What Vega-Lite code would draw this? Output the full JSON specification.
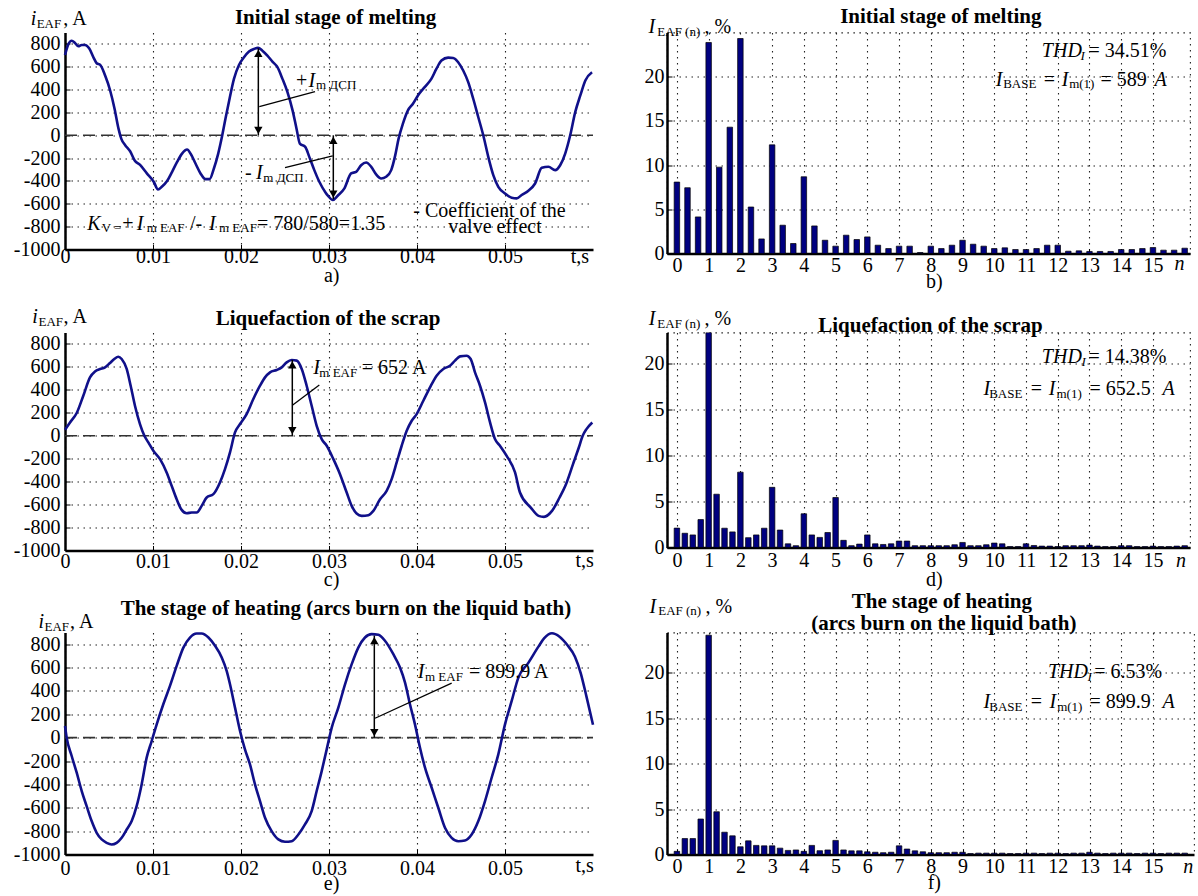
{
"$schema": "https://vega.github.io/schema/vega-lite/v6.json",
"autosize": {"type": "none"},
"padding": {"left": 65, "top": 32.5, "right": 1133, "bottom": 863.5},
"background": "white",
"columns": 2,
"spacing": {"row": 78, "column": 74},
"bounds": "flush",
"align": "all",
"datasets": {
"a_curve": [{"t":0,"v":703},{"t":0.0004,"v":800},{"t":0.00076,"v":828},{"t":0.00114,"v":808},{"t":0.00152,"v":779},{"t":0.0019,"v":791},{"t":0.00228,"v":791},{"t":0.00274,"v":762},{"t":0.00323,"v":683},{"t":0.0036,"v":631},{"t":0.004,"v":616},{"t":0.00456,"v":523},{"t":0.00513,"v":392},{"t":0.00563,"v":233},{"t":0.00608,"v":58},{"t":0.00639,"v":-29},{"t":0.00684,"v":-87},{"t":0.0074,"v":-140},{"t":0.0079,"v":-218},{"t":0.00856,"v":-262},{"t":0.0093,"v":-334},{"t":0.01008,"v":-407},{"t":0.01057,"v":-474},{"t":0.011,"v":-451},{"t":0.0116,"v":-401},{"t":0.01217,"v":-320},{"t":0.01274,"v":-233},{"t":0.0133,"v":-160},{"t":0.01388,"v":-125},{"t":0.01426,"v":-160},{"t":0.01483,"v":-247},{"t":0.0154,"v":-334},{"t":0.01597,"v":-384},{"t":0.01643,"v":-384},{"t":0.01692,"v":-291},{"t":0.01741,"v":-160},{"t":0.01787,"v":0},{"t":0.01825,"v":151},{"t":0.0187,"v":320},{"t":0.0192,"v":494},{"t":0.01977,"v":616},{"t":0.02034,"v":683},{"t":0.02091,"v":733},{"t":0.02148,"v":756},{"t":0.02194,"v":765},{"t":0.02243,"v":741},{"t":0.023,"v":698},{"t":0.02357,"v":645},{"t":0.02414,"v":596},{"t":0.02471,"v":494},{"t":0.02528,"v":378},{"t":0.02586,"v":218},{"t":0.02631,"v":58},{"t":0.02669,"v":-73},{"t":0.0273,"v":-102},{"t":0.02776,"v":-189},{"t":0.02833,"v":-305},{"t":0.0289,"v":-407},{"t":0.0296,"v":-500},{"t":0.0299,"v":-530},{"t":0.03042,"v":-567},{"t":0.03099,"v":-529},{"t":0.03175,"v":-465},{"t":0.03251,"v":-334},{"t":0.03308,"v":-320},{"t":0.03365,"v":-262},{"t":0.03422,"v":-238},{"t":0.0348,"v":-276},{"t":0.03536,"v":-343},{"t":0.03593,"v":-378},{"t":0.0365,"v":-363},{"t":0.03707,"v":-305},{"t":0.03753,"v":-174},{"t":0.03791,"v":-29},{"t":0.0384,"v":102},{"t":0.03897,"v":218},{"t":0.03954,"v":276},{"t":0.04011,"v":349},{"t":0.04087,"v":422},{"t":0.04163,"v":494},{"t":0.0422,"v":581},{"t":0.04278,"v":654},{"t":0.04354,"v":680},{"t":0.04411,"v":677},{"t":0.04468,"v":640},{"t":0.04525,"v":567},{"t":0.04582,"v":465},{"t":0.04639,"v":320},{"t":0.04696,"v":160},{"t":0.04753,"v":0},{"t":0.0481,"v":-189},{"t":0.04867,"v":-349},{"t":0.04924,"v":-451},{"t":0.05,"v":-509},{"t":0.05076,"v":-547},{"t":0.05133,"v":-552},{"t":0.0519,"v":-523},{"t":0.05266,"v":-485},{"t":0.05342,"v":-422},{"t":0.05418,"v":-285},{"t":0.05494,"v":-276},{"t":0.0557,"v":-305},{"t":0.05627,"v":-262},{"t":0.05684,"v":-160},{"t":0.05741,"v":0},{"t":0.05798,"v":203},{"t":0.05856,"v":349},{"t":0.05913,"v":480},{"t":0.05989,"v":552}],
"c_curve": [{"t":0,"v":52},{"t":0.00057,"v":116},{"t":0.00133,"v":198},{"t":0.00208,"v":349},{"t":0.00284,"v":509},{"t":0.00341,"v":561},{"t":0.00398,"v":582},{"t":0.00455,"v":596},{"t":0.00511,"v":634},{"t":0.0056,"v":669},{"t":0.00606,"v":689},{"t":0.00644,"v":669},{"t":0.00701,"v":582},{"t":0.00746,"v":436},{"t":0.00795,"v":262},{"t":0.00852,"v":102},{"t":0.00902,"v":0},{"t":0.00947,"v":-58},{"t":0.01004,"v":-131},{"t":0.0108,"v":-204},{"t":0.01155,"v":-320},{"t":0.01212,"v":-436},{"t":0.01269,"v":-553},{"t":0.01326,"v":-646},{"t":0.01383,"v":-675},{"t":0.0144,"v":-669},{"t":0.01496,"v":-669},{"t":0.01553,"v":-611},{"t":0.0161,"v":-538},{"t":0.01686,"v":-509},{"t":0.01761,"v":-407},{"t":0.01818,"v":-291},{"t":0.01875,"v":-145},{"t":0.01932,"v":29},{"t":0.01989,"v":102},{"t":0.02064,"v":189},{"t":0.0214,"v":320},{"t":0.02216,"v":436},{"t":0.02273,"v":509},{"t":0.0233,"v":553},{"t":0.02405,"v":573},{"t":0.02462,"v":596},{"t":0.02519,"v":640},{"t":0.02576,"v":660},{"t":0.02633,"v":655},{"t":0.0269,"v":582},{"t":0.02746,"v":436},{"t":0.02803,"v":262},{"t":0.0286,"v":87},{"t":0.02917,"v":-29},{"t":0.02974,"v":-87},{"t":0.0305,"v":-204},{"t":0.03125,"v":-335},{"t":0.03201,"v":-495},{"t":0.03258,"v":-611},{"t":0.03314,"v":-678},{"t":0.03371,"v":-698},{"t":0.03447,"v":-692},{"t":0.03504,"v":-655},{"t":0.0358,"v":-553},{"t":0.03655,"v":-480},{"t":0.03712,"v":-378},{"t":0.03769,"v":-233},{"t":0.03826,"v":-87},{"t":0.03883,"v":44},{"t":0.0394,"v":131},{"t":0.03996,"v":189},{"t":0.04072,"v":305},{"t":0.04148,"v":422},{"t":0.04223,"v":524},{"t":0.04299,"v":582},{"t":0.04375,"v":611},{"t":0.04432,"v":655},{"t":0.04489,"v":692},{"t":0.04564,"v":698},{"t":0.0461,"v":669},{"t":0.04659,"v":553},{"t":0.04716,"v":436},{"t":0.04773,"v":291},{"t":0.0483,"v":116},{"t":0.04886,"v":-29},{"t":0.04943,"v":-87},{"t":0.05019,"v":-175},{"t":0.05114,"v":-320},{"t":0.0517,"v":-495},{"t":0.05293,"v":-626},{"t":0.05381,"v":-698},{"t":0.05443,"v":-707},{"t":0.05534,"v":-655},{"t":0.0562,"v":-538},{"t":0.05686,"v":-436},{"t":0.05773,"v":-247},{"t":0.05839,"v":-102},{"t":0.05883,"v":0},{"t":0.05926,"v":58},{"t":0.05992,"v":116}],
"e_curve": [{"t":0,"v":100},{"t":0.00019,"v":0},{"t":0.00076,"v":-157},{"t":0.00133,"v":-300},{"t":0.0019,"v":-457},{"t":0.00246,"v":-586},{"t":0.00303,"v":-714},{"t":0.0036,"v":-814},{"t":0.00417,"v":-871},{"t":0.00473,"v":-900},{"t":0.0053,"v":-914},{"t":0.00587,"v":-900},{"t":0.00644,"v":-857},{"t":0.00701,"v":-786},{"t":0.00758,"v":-714},{"t":0.00814,"v":-586},{"t":0.00871,"v":-400},{"t":0.00928,"v":-171},{"t":0.00985,"v":-29},{"t":0.01042,"v":114},{"t":0.01117,"v":286},{"t":0.01193,"v":443},{"t":0.01269,"v":614},{"t":0.01345,"v":771},{"t":0.0142,"v":857},{"t":0.01496,"v":891},{"t":0.01553,"v":891},{"t":0.0163,"v":857},{"t":0.01705,"v":786},{"t":0.01781,"v":686},{"t":0.01837,"v":571},{"t":0.01875,"v":457},{"t":0.01932,"v":257},{"t":0.01989,"v":57},{"t":0.02045,"v":-100},{"t":0.02102,"v":-229},{"t":0.02159,"v":-400},{"t":0.02216,"v":-543},{"t":0.02273,"v":-686},{"t":0.02348,"v":-800},{"t":0.02424,"v":-871},{"t":0.025,"v":-891},{"t":0.02576,"v":-886},{"t":0.02652,"v":-829},{"t":0.02727,"v":-743},{"t":0.02803,"v":-629},{"t":0.0286,"v":-457},{"t":0.02917,"v":-286},{"t":0.02974,"v":-100},{"t":0.03031,"v":86},{"t":0.03106,"v":257},{"t":0.03182,"v":457},{"t":0.03258,"v":629},{"t":0.03333,"v":771},{"t":0.03409,"v":857},{"t":0.03485,"v":886},{"t":0.03561,"v":880},{"t":0.03636,"v":829},{"t":0.03731,"v":714},{"t":0.03807,"v":600},{"t":0.03864,"v":471},{"t":0.0392,"v":286},{"t":0.03977,"v":114},{"t":0.04034,"v":-86},{"t":0.04091,"v":-257},{"t":0.04167,"v":-429},{"t":0.04242,"v":-600},{"t":0.04318,"v":-771},{"t":0.04394,"v":-857},{"t":0.0447,"v":-886},{"t":0.04545,"v":-880},{"t":0.04621,"v":-829},{"t":0.04697,"v":-714},{"t":0.04773,"v":-543},{"t":0.04848,"v":-343},{"t":0.04924,"v":-143},{"t":0.05,"v":114},{"t":0.05076,"v":314},{"t":0.05152,"v":514},{"t":0.05265,"v":640},{"t":0.0538,"v":779},{"t":0.05446,"v":851},{"t":0.05534,"v":893},{"t":0.0562,"v":864},{"t":0.05708,"v":793},{"t":0.05795,"v":693},{"t":0.05861,"v":551},{"t":0.05926,"v":351},{"t":0.06,"v":110}],
"b_bars": [{"n":0,"p":8.08},{"n":0.333,"p":7.44},{"n":0.667,"p":4.14},{"n":1,"p":23.87},{"n":1.333,"p":9.77},{"n":1.667,"p":14.29},{"n":2,"p":24.32},{"n":2.333,"p":5.26},{"n":2.667,"p":1.65},{"n":3,"p":12.29},{"n":3.333,"p":3.2},{"n":3.667,"p":1.13},{"n":4,"p":8.68},{"n":4.333,"p":3.12},{"n":4.667,"p":1.5},{"n":5,"p":0.83},{"n":5.333,"p":2.07},{"n":5.667,"p":1.58},{"n":6,"p":1.88},{"n":6.333,"p":0.94},{"n":6.667,"p":0.56},{"n":7,"p":0.83},{"n":7.333,"p":0.83},{"n":7.667,"p":0.11},{"n":8,"p":0.83},{"n":8.333,"p":0.56},{"n":8.667,"p":0.94},{"n":9,"p":1.5},{"n":9.333,"p":1.05},{"n":9.667,"p":0.83},{"n":10,"p":0.56},{"n":10.333,"p":0.64},{"n":10.667,"p":0.45},{"n":11,"p":0.45},{"n":11.333,"p":0.56},{"n":11.667,"p":0.94},{"n":12,"p":0.94},{"n":12.333,"p":0.26},{"n":12.667,"p":0.3},{"n":13,"p":0.23},{"n":13.333,"p":0.23},{"n":13.667,"p":0.23},{"n":14,"p":0.45},{"n":14.333,"p":0.45},{"n":14.667,"p":0.56},{"n":15,"p":0.68},{"n":15.333,"p":0.38},{"n":15.667,"p":0.38},{"n":16,"p":0.6}],
"d_bars": [{"n":0,"p":2.11},{"n":0.25,"p":1.55},{"n":0.5,"p":1.37},{"n":0.75,"p":3.04},{"n":1,"p":23.4},{"n":1.25,"p":5.8},{"n":1.5,"p":2.1},{"n":1.75,"p":1.7},{"n":2,"p":8.2},{"n":2.25,"p":1.07},{"n":2.5,"p":1.37},{"n":2.75,"p":2.1},{"n":3,"p":6.55},{"n":3.25,"p":1.9},{"n":3.5,"p":0.4},{"n":3.75,"p":0.2},{"n":4,"p":3.67},{"n":4.25,"p":1.37},{"n":4.5,"p":1.1},{"n":4.75,"p":1.63},{"n":5,"p":5.44},{"n":5.25,"p":0.78},{"n":5.5,"p":0.2},{"n":5.75,"p":0.37},{"n":6,"p":1.37},{"n":6.25,"p":0.4},{"n":6.5,"p":0.33},{"n":6.75,"p":0.4},{"n":7,"p":0.7},{"n":7.25,"p":0.7},{"n":7.5,"p":0.2},{"n":7.75,"p":0.2},{"n":8,"p":0.2},{"n":8.25,"p":0.2},{"n":8.5,"p":0.2},{"n":8.75,"p":0.3},{"n":9,"p":0.55},{"n":9.25,"p":0.2},{"n":9.5,"p":0.2},{"n":9.75,"p":0.3},{"n":10,"p":0.48},{"n":10.25,"p":0.4},{"n":10.5,"p":0.1},{"n":10.75,"p":0.1},{"n":11,"p":0.4},{"n":11.25,"p":0.22},{"n":11.5,"p":0.15},{"n":11.75,"p":0.15},{"n":12,"p":0.1},{"n":12.25,"p":0.2},{"n":12.5,"p":0.2},{"n":12.75,"p":0.2},{"n":13,"p":0.26},{"n":13.25,"p":0.15},{"n":13.5,"p":0.1},{"n":13.75,"p":0.1},{"n":14,"p":0.2},{"n":14.25,"p":0.2},{"n":14.5,"p":0.1},{"n":14.75,"p":0.1},{"n":15,"p":0.15},{"n":15.25,"p":0.1},{"n":15.5,"p":0.1},{"n":15.75,"p":0.15},{"n":16,"p":0.2}],
"f_bars": [{"n":0,"p":0.35},{"n":0.25,"p":1.75},{"n":0.5,"p":1.75},{"n":0.75,"p":3.9},{"n":1,"p":24.1},{"n":1.25,"p":4.7},{"n":1.5,"p":2.45},{"n":1.75,"p":2.05},{"n":2,"p":0.85},{"n":2.25,"p":1.5},{"n":2.5,"p":1.0},{"n":2.75,"p":0.95},{"n":3,"p":0.95},{"n":3.25,"p":0.7},{"n":3.5,"p":0.45},{"n":3.75,"p":0.5},{"n":4,"p":0.35},{"n":4.25,"p":1.0},{"n":4.5,"p":0.42},{"n":4.75,"p":0.5},{"n":5,"p":1.55},{"n":5.25,"p":0.5},{"n":5.5,"p":0.4},{"n":5.75,"p":0.4},{"n":6,"p":0.3},{"n":6.25,"p":0.25},{"n":6.5,"p":0.2},{"n":6.75,"p":0.25},{"n":7,"p":0.95},{"n":7.25,"p":0.6},{"n":7.5,"p":0.4},{"n":7.75,"p":0.3},{"n":8,"p":0.2},{"n":8.25,"p":0.2},{"n":8.5,"p":0.2},{"n":8.75,"p":0.25},{"n":9,"p":0.25},{"n":9.25,"p":0.1},{"n":9.5,"p":0.15},{"n":9.75,"p":0.15},{"n":10,"p":0.15},{"n":10.25,"p":0.15},{"n":10.5,"p":0.1},{"n":10.75,"p":0.1},{"n":11,"p":0.15},{"n":11.25,"p":0.15},{"n":11.5,"p":0.1},{"n":11.75,"p":0.15},{"n":12,"p":0.15},{"n":12.25,"p":0.1},{"n":12.5,"p":0.15},{"n":12.75,"p":0.15},{"n":13,"p":0.25},{"n":13.25,"p":0.15},{"n":13.5,"p":0.1},{"n":13.75,"p":0.15},{"n":14,"p":0.15},{"n":14.25,"p":0.15},{"n":14.5,"p":0.1},{"n":14.75,"p":0.15},{"n":15,"p":0.15},{"n":15.25,"p":0.1},{"n":15.5,"p":0.15},{"n":15.75,"p":0.15},{"n":16,"p":0.15}],
"a_arrow": [{"t":0.02197,"v":0,"v2":762},{"t":0.03049,"v":0,"v2":-560}],
"a_up": [{"t":0.02197,"v":718},{"t":0.03049,"v":-44}],
"a_dn": [{"t":0.02197,"v":44},{"t":0.03049,"v":-516}],
"a_lead": [{"t":0.02208,"v":250,"t2":0.02841,"v2":382},{"t":0.03042,"v":-181,"t2":0.025,"v2":-284}],
"a_norm": [{"t":0.02625,"v":420,"s":"+"},{"t":0.02045,"v":-385,"s":"-"},{"t":0.00651,"v":-829,"s":"+"},{"t":0.0142,"v":-829,"s":"/-"},{"t":0.02182,"v":-829,"s":"= 780/580=1.35"},{"t":0.03958,"v":-713,"s":"- Coefficient of the"},{"t":-0.00019,"v":966,"s":", A"}],
"a_ital": [{"t":0.02767,"v":420,"s":"I"},{"t":0.0217,"v":-385,"s":"I"},{"t":0.00253,"v":-829,"s":"K"},{"t":0.00815,"v":-829,"s":"I"},{"t":0.01636,"v":-829,"s":"I"},{"t":-0.0039,"v":966,"s":"i"}],
"a_sub": [{"t":0.02852,"v":403,"s":"m ДСП"},{"t":0.02253,"v":-406,"s":"m ДСП"},{"t":0.00417,"v":-849,"s":"V ="},{"t":0.00928,"v":-849,"s":"m EAF"},{"t":0.0175,"v":-849,"s":"m EAF"},{"t":-0.00322,"v":940,"s":"EAF"}],
"a_ctr": [{"t":0.04886,"v":-858,"s":"valve effect"},{"t":0.05852,"v":-1118,"s":"t,s"},{"t":0.03031,"v":-1285,"s":"a)"}],
"a_title": [{"t":0.03074,"v":975,"s":"Initial stage of melting"}],
"c_arrow": [{"t":0.02583,"v":0,"v2":661}],
"c_up": [{"t":0.02583,"v":617}],
"c_dn": [{"t":0.02583,"v":44}],
"c_lead": [{"t":0.02588,"v":268,"t2":0.0289,"v2":443}],
"c_norm": [{"t":0.03372,"v":536,"s":"= 652 A"},{"t":-0.00017,"v":981,"s":", A"}],
"c_ital": [{"t":0.02822,"v":536,"s":"I"},{"t":-0.00372,"v":981,"s":"i"}],
"c_sub": [{"t":0.0289,"v":515,"s":"m EAF"},{"t":-0.00301,"v":957,"s":"EAF"}],
"c_ctr": [{"t":0.05905,"v":-1141,"s":"t,s"},{"t":0.0303,"v":-1310,"s":"c)"}],
"c_title": [{"t":0.02989,"v":966,"s":"Liquefaction of the scrap"}],
"e_arrow": [{"t":0.03515,"v":0,"v2":873}],
"e_up": [{"t":0.03515,"v":830}],
"e_dn": [{"t":0.03515,"v":43}],
"e_lead": [{"t":0.03523,"v":166,"t2":0.04394,"v2":466}],
"e_norm": [{"t":0.0459,"v":508,"s":"= 899.9 A"},{"t":0.00057,"v":936,"s":", A"}],
"e_ital": [{"t":0.04008,"v":508,"s":"I"},{"t":-0.00301,"v":936,"s":"i"}],
"e_sub": [{"t":0.04091,"v":485,"s":"m EAF"},{"t":-0.00233,"v":913,"s":"EAF"}],
"e_ctr": [{"t":0.05905,"v":-1149,"s":"t,s"},{"t":0.0303,"v":-1305,"s":"e)"}],
"e_title": [{"t":0.03193,"v":1050,"s":"The stage of heating (arcs burn on the liquid bath)"}],
"b_norm": [{"n":12.97,"p":22.19,"s":"= 34.51%"},{"n":11.56,"p":18.95,"s":"="},{"n":13.35,"p":18.95,"s":"= 589"},{"n":0.866,"p":24.9,"s":", %"}],
"b_ital": [{"n":11.5,"p":22.19,"s":"THD"},{"n":10.05,"p":18.95,"s":"I"},{"n":12.13,"p":18.95,"s":"I"},{"n":15.05,"p":18.95,"s":"A"},{"n":-0.896,"p":24.9,"s":"I"},{"n":15.68,"p":-1.87,"s":"n"}],
"b_sub": [{"n":10.28,"p":18.67,"s":"BASE"},{"n":12.36,"p":18.67,"s":"m(1)"},{"n":-0.618,"p":24.6,"s":"EAF (n)"}],
"b_subital": [{"n":12.72,"p":21.89,"s":"I"}],
"b_ctr": [{"n":8.11,"p":-3.9,"s":"b)"}],
"b_title": [{"n":8.315,"p":26.04,"s":"Initial stage of melting"}],
"d_norm": [{"n":12.97,"p":20.05,"s":"= 14.38%"},{"n":11.15,"p":16.6,"s":"="},{"n":13.0,"p":16.6,"s":"= 652.5"},{"n":0.866,"p":24.2,"s":", %"}],
"d_ital": [{"n":11.5,"p":20.05,"s":"THD"},{"n":9.66,"p":16.6,"s":"I"},{"n":11.72,"p":16.6,"s":"I"},{"n":15.3,"p":16.6,"s":"A"},{"n":-0.884,"p":24.2,"s":"I"},{"n":15.73,"p":-2.09,"s":"n"}],
"d_sub": [{"n":9.84,"p":16.3,"s":"BASE"},{"n":11.96,"p":16.3,"s":"m(1)"},{"n":-0.618,"p":23.9,"s":"EAF (n)"}],
"d_subital": [{"n":12.75,"p":19.75,"s":"I"}],
"d_ctr": [{"n":8.11,"p":-4.15,"s":"d)"}],
"d_title": [{"n":7.99,"p":23.45,"s":"Liquefaction of the scrap"}],
"f_norm": [{"n":13.15,"p":19.37,"s":"= 6.53%"},{"n":11.15,"p":16.07,"s":"="},{"n":13.0,"p":16.07,"s":"= 899.9"},{"n":0.9,"p":26.58,"s":", %"}],
"f_ital": [{"n":11.69,"p":19.37,"s":"THD"},{"n":9.66,"p":16.07,"s":"I"},{"n":11.74,"p":16.07,"s":"I"},{"n":15.3,"p":16.07,"s":"A"},{"n":-0.866,"p":26.58,"s":"I"},{"n":15.95,"p":-2.03,"s":"n"}],
"f_sub": [{"n":9.84,"p":15.77,"s":"BASE"},{"n":11.98,"p":15.77,"s":"m(1)"},{"n":-0.59,"p":26.27,"s":"EAF (n)"}],
"f_subital": [{"n":12.94,"p":19.07,"s":"I"}],
"f_ctr": [{"n":8.11,"p":-3.8,"s":"f)"}],
"f_title": [{"n":8.35,"p":27.06,"s":"The stage of heating"},{"n":8.41,"p":24.68,"s":"(arcs burn on the liquid bath)"}]
},
"concat": [
{
"width": 528, "height": 217,
"encoding": {
"x": {"field": "t", "type": "quantitative", "scale": {"domain": [0, 0.06], "nice": false, "zero": false}, "axis": {"title": null, "values": [0, 0.01, 0.02, 0.03, 0.04, 0.05], "labelExpr": "toString(datum.value)", "labelBaseline": "alphabetic", "labelPadding": 18}},
"y": {"field": "v", "type": "quantitative", "scale": {"domain": [-1000, 900], "nice": false, "zero": false}, "axis": {"title": null, "values": [-1000, -800, -600, -400, -200, 0, 200, 400, 600, 800], "labelExpr": "toString(datum.value)", "labelPadding": 10}}
},
"layer": [
{"data": {"values": [{"t": 0, "v": 0}, {"t": 0.06, "v": 0}]}, "mark": {"type": "line", "color": "#333", "strokeWidth": 1.6, "strokeDash": [12, 6]}, "encoding": {}},
{"data": {"name": "a_curve"}, "mark": {"type": "line", "color": "#10108a", "strokeWidth": 2.6, "interpolate": "monotone"}, "encoding": {}},
{"data": {"name": "a_arrow"}, "mark": {"type": "rule", "color": "black", "strokeWidth": 1.5}, "encoding": {"y2": {"field": "v2"}}},
{"data": {"name": "a_up"}, "mark": {"type": "point", "shape": "triangle-up", "filled": true, "color": "black", "size": 70, "opacity": 1}},
{"data": {"name": "a_dn"}, "mark": {"type": "point", "shape": "triangle-down", "filled": true, "color": "black", "size": 70, "opacity": 1}},
{"data": {"name": "a_lead"}, "mark": {"type": "rule", "color": "black", "strokeWidth": 1.3}, "encoding": {"x2": {"field": "t2"}, "y2": {"field": "v2"}}},
{"data": {"name": "a_norm"}, "mark": {"type": "text", "font": "Liberation Serif", "align": "left", "baseline": "alphabetic", "fontSize": 20, "color": "black"}, "encoding": {"text": {"field": "s"}}},
{"data": {"name": "a_ital"}, "mark": {"type": "text", "font": "Liberation Serif", "align": "left", "baseline": "alphabetic", "fontSize": 20, "fontStyle": "italic", "color": "black"}, "encoding": {"text": {"field": "s"}}},
{"data": {"name": "a_sub"}, "mark": {"type": "text", "font": "Liberation Serif", "align": "left", "baseline": "alphabetic", "fontSize": 13, "color": "black"}, "encoding": {"text": {"field": "s"}}},
{"data": {"name": "a_ctr"}, "mark": {"type": "text", "font": "Liberation Serif", "align": "center", "baseline": "alphabetic", "fontSize": 20, "color": "black"}, "encoding": {"text": {"field": "s"}}},
{"data": {"name": "a_title"}, "mark": {"type": "text", "font": "Liberation Serif", "align": "center", "baseline": "alphabetic", "fontSize": 21, "fontWeight": "bold", "color": "black"}, "encoding": {"text": {"field": "s"}}}
]
},
{
"width": 523, "height": 221,
"view": {"stroke": "#222", "strokeDash": [1.5, 4.5], "strokeWidth": 1.1},
"encoding": {
"x": {"field": "n", "type": "quantitative", "scale": {"domain": [-0.155, 16.01], "nice": false, "zero": false}, "axis": {"title": null, "values": [0,1,2,3,4,5,6,7,8,9,10,11,12,13,14,15], "labelExpr": "toString(datum.value)", "labelBaseline": "alphabetic", "labelPadding": 23}},
"y": {"field": "p", "type": "quantitative", "scale": {"domain": [0, 25], "nice": false, "zero": false}, "axis": {"title": null, "values": [0, 5, 10, 15, 20], "labelExpr": "toString(datum.value)", "labelPadding": 8}}
},
"layer": [
{"data": {"name": "b_bars"}, "mark": {"type": "bar", "size": 5.5, "color": "#000080", "stroke": "black", "strokeWidth": 0.7, "clip": true}},
{"data": {"name": "b_norm"}, "mark": {"type": "text", "font": "Liberation Serif", "align": "left", "baseline": "alphabetic", "fontSize": 20, "color": "black"}, "encoding": {"text": {"field": "s"}}},
{"data": {"name": "b_ital"}, "mark": {"type": "text", "font": "Liberation Serif", "align": "left", "baseline": "alphabetic", "fontSize": 20, "fontStyle": "italic", "color": "black"}, "encoding": {"text": {"field": "s"}}},
{"data": {"name": "b_sub"}, "mark": {"type": "text", "font": "Liberation Serif", "align": "left", "baseline": "alphabetic", "fontSize": 13, "color": "black"}, "encoding": {"text": {"field": "s"}}},
{"data": {"name": "b_subital"}, "mark": {"type": "text", "font": "Liberation Serif", "align": "left", "baseline": "alphabetic", "fontSize": 13, "fontStyle": "italic", "color": "black"}, "encoding": {"text": {"field": "s"}}},
{"data": {"name": "b_ctr"}, "mark": {"type": "text", "font": "Liberation Serif", "align": "center", "baseline": "alphabetic", "fontSize": 20, "color": "black"}, "encoding": {"text": {"field": "s"}}},
{"data": {"name": "b_title"}, "mark": {"type": "text", "font": "Liberation Serif", "align": "center", "baseline": "alphabetic", "fontSize": 21, "fontWeight": "bold", "color": "black"}, "encoding": {"text": {"field": "s"}}}
]
},
{
"width": 528, "height": 218,
"encoding": {
"x": {"field": "t", "type": "quantitative", "scale": {"domain": [0, 0.06], "nice": false, "zero": false}, "axis": {"title": null, "values": [0, 0.01, 0.02, 0.03, 0.04, 0.05], "labelExpr": "toString(datum.value)", "labelBaseline": "alphabetic", "labelPadding": 22}},
"y": {"field": "v", "type": "quantitative", "scale": {"domain": [-1000, 900], "nice": false, "zero": false}, "axis": {"title": null, "values": [-1000, -800, -600, -400, -200, 0, 200, 400, 600, 800], "labelExpr": "toString(datum.value)", "labelPadding": 10}}
},
"layer": [
{"data": {"values": [{"t": 0, "v": 0}, {"t": 0.06, "v": 0}]}, "mark": {"type": "line", "color": "#333", "strokeWidth": 1.6, "strokeDash": [12, 6]}, "encoding": {}},
{"data": {"name": "c_curve"}, "mark": {"type": "line", "color": "#10108a", "strokeWidth": 2.6, "interpolate": "monotone"}, "encoding": {}},
{"data": {"name": "c_arrow"}, "mark": {"type": "rule", "color": "black", "strokeWidth": 1.5}, "encoding": {"y2": {"field": "v2"}}},
{"data": {"name": "c_up"}, "mark": {"type": "point", "shape": "triangle-up", "filled": true, "color": "black", "size": 70, "opacity": 1}},
{"data": {"name": "c_dn"}, "mark": {"type": "point", "shape": "triangle-down", "filled": true, "color": "black", "size": 70, "opacity": 1}},
{"data": {"name": "c_lead"}, "mark": {"type": "rule", "color": "black", "strokeWidth": 1.3}, "encoding": {"x2": {"field": "t2"}, "y2": {"field": "v2"}}},
{"data": {"name": "c_norm"}, "mark": {"type": "text", "font": "Liberation Serif", "align": "left", "baseline": "alphabetic", "fontSize": 20, "color": "black"}, "encoding": {"text": {"field": "s"}}},
{"data": {"name": "c_ital"}, "mark": {"type": "text", "font": "Liberation Serif", "align": "left", "baseline": "alphabetic", "fontSize": 20, "fontStyle": "italic", "color": "black"}, "encoding": {"text": {"field": "s"}}},
{"data": {"name": "c_sub"}, "mark": {"type": "text", "font": "Liberation Serif", "align": "left", "baseline": "alphabetic", "fontSize": 13, "color": "black"}, "encoding": {"text": {"field": "s"}}},
{"data": {"name": "c_ctr"}, "mark": {"type": "text", "font": "Liberation Serif", "align": "center", "baseline": "alphabetic", "fontSize": 20, "color": "black"}, "encoding": {"text": {"field": "s"}}},
{"data": {"name": "c_title"}, "mark": {"type": "text", "font": "Liberation Serif", "align": "center", "baseline": "alphabetic", "fontSize": 21, "fontWeight": "bold", "color": "black"}, "encoding": {"text": {"field": "s"}}}
]
},
{
"width": 523, "height": 215,
"view": {"stroke": "#222", "strokeDash": [1.5, 4.5], "strokeWidth": 1.1},
"encoding": {
"x": {"field": "n", "type": "quantitative", "scale": {"domain": [-0.155, 16.01], "nice": false, "zero": false}, "axis": {"title": null, "values": [0,1,2,3,4,5,6,7,8,9,10,11,12,13,14,15], "labelExpr": "toString(datum.value)", "labelBaseline": "alphabetic", "labelPadding": 24}},
"y": {"field": "p", "type": "quantitative", "scale": {"domain": [0, 23.4], "nice": false, "zero": false}, "axis": {"title": null, "values": [0, 5, 10, 15, 20], "labelExpr": "toString(datum.value)", "labelPadding": 8}}
},
"layer": [
{"data": {"name": "d_bars"}, "mark": {"type": "bar", "size": 5.5, "color": "#000080", "stroke": "black", "strokeWidth": 0.7, "clip": true}},
{"data": {"name": "d_norm"}, "mark": {"type": "text", "font": "Liberation Serif", "align": "left", "baseline": "alphabetic", "fontSize": 20, "color": "black"}, "encoding": {"text": {"field": "s"}}},
{"data": {"name": "d_ital"}, "mark": {"type": "text", "font": "Liberation Serif", "align": "left", "baseline": "alphabetic", "fontSize": 20, "fontStyle": "italic", "color": "black"}, "encoding": {"text": {"field": "s"}}},
{"data": {"name": "d_sub"}, "mark": {"type": "text", "font": "Liberation Serif", "align": "left", "baseline": "alphabetic", "fontSize": 13, "color": "black"}, "encoding": {"text": {"field": "s"}}},
{"data": {"name": "d_subital"}, "mark": {"type": "text", "font": "Liberation Serif", "align": "left", "baseline": "alphabetic", "fontSize": 13, "fontStyle": "italic", "color": "black"}, "encoding": {"text": {"field": "s"}}},
{"data": {"name": "d_ctr"}, "mark": {"type": "text", "font": "Liberation Serif", "align": "center", "baseline": "alphabetic", "fontSize": 20, "color": "black"}, "encoding": {"text": {"field": "s"}}},
{"data": {"name": "d_title"}, "mark": {"type": "text", "font": "Liberation Serif", "align": "center", "baseline": "alphabetic", "fontSize": 21, "fontWeight": "bold", "color": "black"}, "encoding": {"text": {"field": "s"}}}
]
},
{
"width": 528, "height": 222,
"encoding": {
"x": {"field": "t", "type": "quantitative", "scale": {"domain": [0, 0.06], "nice": false, "zero": false}, "axis": {"title": null, "values": [0, 0.01, 0.02, 0.03, 0.04, 0.05], "labelExpr": "toString(datum.value)", "labelBaseline": "alphabetic", "labelPadding": 25}},
"y": {"field": "v", "type": "quantitative", "scale": {"domain": [-1000, 900], "nice": false, "zero": false}, "axis": {"title": null, "values": [-1000, -800, -600, -400, -200, 0, 200, 400, 600, 800], "labelExpr": "toString(datum.value)", "labelPadding": 10}}
},
"layer": [
{"data": {"values": [{"t": 0, "v": 0}, {"t": 0.06, "v": 0}]}, "mark": {"type": "line", "color": "#333", "strokeWidth": 1.6, "strokeDash": [12, 6]}, "encoding": {}},
{"data": {"name": "e_curve"}, "mark": {"type": "line", "color": "#10108a", "strokeWidth": 2.6, "interpolate": "monotone"}, "encoding": {}},
{"data": {"name": "e_arrow"}, "mark": {"type": "rule", "color": "black", "strokeWidth": 1.5}, "encoding": {"y2": {"field": "v2"}}},
{"data": {"name": "e_up"}, "mark": {"type": "point", "shape": "triangle-up", "filled": true, "color": "black", "size": 70, "opacity": 1}},
{"data": {"name": "e_dn"}, "mark": {"type": "point", "shape": "triangle-down", "filled": true, "color": "black", "size": 70, "opacity": 1}},
{"data": {"name": "e_lead"}, "mark": {"type": "rule", "color": "black", "strokeWidth": 1.3}, "encoding": {"x2": {"field": "t2"}, "y2": {"field": "v2"}}},
{"data": {"name": "e_norm"}, "mark": {"type": "text", "font": "Liberation Serif", "align": "left", "baseline": "alphabetic", "fontSize": 20, "color": "black"}, "encoding": {"text": {"field": "s"}}},
{"data": {"name": "e_ital"}, "mark": {"type": "text", "font": "Liberation Serif", "align": "left", "baseline": "alphabetic", "fontSize": 20, "fontStyle": "italic", "color": "black"}, "encoding": {"text": {"field": "s"}}},
{"data": {"name": "e_sub"}, "mark": {"type": "text", "font": "Liberation Serif", "align": "left", "baseline": "alphabetic", "fontSize": 13, "color": "black"}, "encoding": {"text": {"field": "s"}}},
{"data": {"name": "e_ctr"}, "mark": {"type": "text", "font": "Liberation Serif", "align": "center", "baseline": "alphabetic", "fontSize": 20, "color": "black"}, "encoding": {"text": {"field": "s"}}},
{"data": {"name": "e_title"}, "mark": {"type": "text", "font": "Liberation Serif", "align": "center", "baseline": "alphabetic", "fontSize": 21, "fontWeight": "bold", "color": "black"}, "encoding": {"text": {"field": "s"}}}
]
},
{
"width": 527, "height": 222,
"view": {"stroke": "#222", "strokeDash": [1.5, 4.5], "strokeWidth": 1.1},
"encoding": {
"x": {"field": "n", "type": "quantitative", "scale": {"domain": [-0.155, 16.135], "nice": false, "zero": false}, "axis": {"title": null, "values": [0,1,2,3,4,5,6,7,8,9,10,11,12,13,14,15], "labelExpr": "toString(datum.value)", "labelBaseline": "alphabetic", "labelPadding": 23}},
"y": {"field": "p", "type": "quantitative", "scale": {"domain": [0, 24.4], "nice": false, "zero": false}, "axis": {"title": null, "values": [0, 5, 10, 15, 20], "labelExpr": "toString(datum.value)", "labelPadding": 8}}
},
"layer": [
{"data": {"name": "f_bars"}, "mark": {"type": "bar", "size": 5.5, "color": "#000080", "stroke": "black", "strokeWidth": 0.7, "clip": true}},
{"data": {"name": "f_norm"}, "mark": {"type": "text", "font": "Liberation Serif", "align": "left", "baseline": "alphabetic", "fontSize": 20, "color": "black"}, "encoding": {"text": {"field": "s"}}},
{"data": {"name": "f_ital"}, "mark": {"type": "text", "font": "Liberation Serif", "align": "left", "baseline": "alphabetic", "fontSize": 20, "fontStyle": "italic", "color": "black"}, "encoding": {"text": {"field": "s"}}},
{"data": {"name": "f_sub"}, "mark": {"type": "text", "font": "Liberation Serif", "align": "left", "baseline": "alphabetic", "fontSize": 13, "color": "black"}, "encoding": {"text": {"field": "s"}}},
{"data": {"name": "f_subital"}, "mark": {"type": "text", "font": "Liberation Serif", "align": "left", "baseline": "alphabetic", "fontSize": 13, "fontStyle": "italic", "color": "black"}, "encoding": {"text": {"field": "s"}}},
{"data": {"name": "f_ctr"}, "mark": {"type": "text", "font": "Liberation Serif", "align": "center", "baseline": "alphabetic", "fontSize": 20, "color": "black"}, "encoding": {"text": {"field": "s"}}},
{"data": {"name": "f_title"}, "mark": {"type": "text", "font": "Liberation Serif", "align": "center", "baseline": "alphabetic", "fontSize": 21, "fontWeight": "bold", "color": "black"}, "encoding": {"text": {"field": "s"}}}
]
}
],
"config": {
"font": "Liberation Serif",
"view": {"stroke": null},
"text": {"font": "Liberation Serif"},
"axis": {"labelFont": "Liberation Serif", "labelFontSize": 20, "labelColor": "black", "domainColor": "black", "domainWidth": 2.5, "ticks": true, "tickSize": -5, "tickColor": "black", "tickWidth": 1, "grid": true, "gridColor": "#222", "gridDash": [1.5, 4.5], "gridWidth": 1.1, "gridOpacity": 1, "labelFlush": false, "labelOverlap": false}
}
}
